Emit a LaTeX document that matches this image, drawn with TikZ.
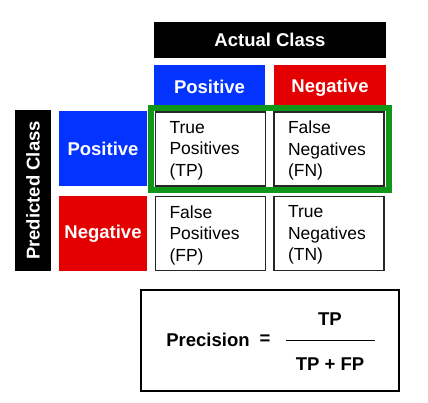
\documentclass[tikz,border=0pt]{standalone}
\usepackage{fontspec}
\setmainfont{Liberation Sans}
\usepackage{xcolor}
\usetikzlibrary{positioning}

\definecolor{posblue}{RGB}{3,51,255}
\definecolor{negred}{RGB}{228,0,0}
\definecolor{boxgreen}{RGB}{16,150,24}

\tikzset{
  headbox/.style={fill=black, text=white, inner sep=0pt,
    font=\fontsize{18.5}{21}\selectfont\bfseries},
  classbox/.style={inner sep=0pt, text=white,
    font=\fontsize{18.5}{21}\selectfont\bfseries},
  cellbox/.style={draw=black!85, line width=1.6pt, inner sep=0pt,
    minimum width=110pt, minimum height=74pt},
  celltext/.style={align=left, text width=82pt, inner sep=0pt,
    font=\fontsize{17.5}{21.5}\selectfont},
  formula/.style={font=\fontsize{18.5}{21}\selectfont\bfseries}
}

\begin{document}
\begin{tikzpicture}[x=1pt, y={(0,-1pt)}]
    \useasboundingbox (0,0) rectangle (428,402);

    % header boxes
    \node[headbox, minimum width=232pt, minimum height=36pt] (actual) at (270,40) {Actual Class};
    \node[headbox, minimum width=161pt, minimum height=36pt, rotate=90] (predicted) at (33,190.5) {Predicted Class};

    \node[classbox, fill=posblue, minimum width=111pt, minimum height=46pt] (apos) at (209.5,88) {\raisebox{2pt}{Positive}};
    \node[classbox, fill=negred, minimum width=112pt, minimum height=46pt] (aneg) at (330,88) {\raisebox{2pt}{Negative}};
    \node[classbox, fill=posblue, minimum width=88pt, minimum height=75pt] (ppos) at (103,148.5) {Positive};
    \node[classbox, fill=negred, minimum width=88pt, minimum height=75pt] (pneg) at (103,233.5) {Negative};

    % the four cells
    \node[cellbox, fill=white] (tp) at (210.5,149) {};
    \node[cellbox, fill=white] (fn) at (329,149) {};
    \node[cellbox, fill=white] (fp) at (210.5,233.5) {};
    \node[cellbox, fill=white] (tn) at (329,233.5) {};

    \node[celltext] at ([yshift=-1.5pt]tp) {True\\Positives\\(TP)};
    \node[celltext] at ([yshift=-1.5pt]fn) {False\\Negatives\\(FN)};
    \node[celltext] at ([yshift=-1.5pt]fp) {False\\Positives\\(FP)};
    \node[celltext] at ([yshift=-1.5pt]tn) {True\\Negatives\\(TN)};

    % green frame round the top row
    \draw[boxgreen, line width=5.5pt] (150.8,108) rectangle (389.2,190.2);

    % precision formula
    \node[draw=black, line width=2pt, minimum width=258pt, minimum height=101pt, inner sep=0pt] (precbox) at (269.5,340) {};
    \node[formula] (prec) at (208,340) {Precision};
    \node[formula] (eq) at (265,340) {=};
    \coordinate (fracl) at (286,340.5);
    \coordinate (fracr) at (375,340.5);
    \draw[line width=1.2pt] (fracl) -- (fracr);
    \node[formula] (num) at (330,319.5) {TP};
    \node[formula] (den) at (330,364.5) {TP + FP};
\end{tikzpicture}
\end{document}
